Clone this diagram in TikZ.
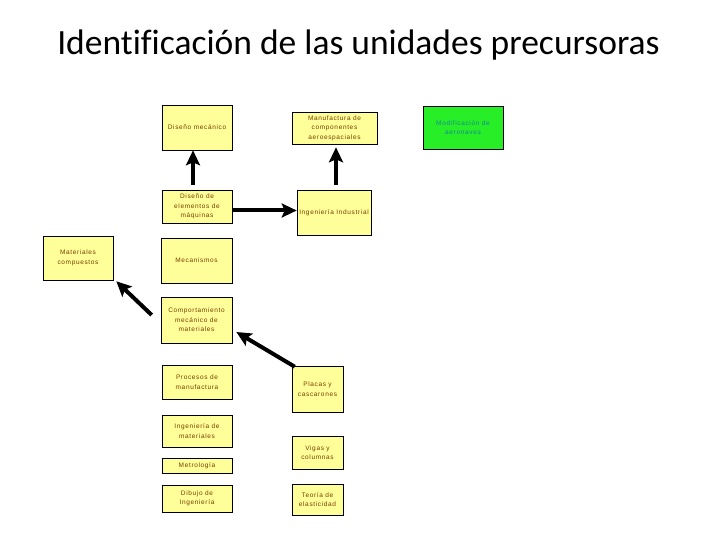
\documentclass[tikz,border=0pt]{standalone}
\usepackage{fontspec}
\setmainfont{Liberation Sans}
\newfontfamily\titlefont[Ligatures=NoCommon]{Carlito}
\newfontfamily\boxfont[LetterSpace=10]{Liberation Sans}
\usetikzlibrary{arrows.meta}
\definecolor{boxfill}{RGB}{255,255,153}
\definecolor{boxtext}{RGB}{120,60,0}
\definecolor{greenfill}{RGB}{40,238,40}
\definecolor{greentext}{RGB}{20,135,150}
\begin{document}
\begin{tikzpicture}[x=1pt,y=-1pt,
  unit/.style={draw=black, line width=0.6pt, fill=boxfill, text=boxtext,
    font=\boxfont\fontsize{6.5}{9.5}\selectfont, align=center, inner sep=0pt},
  greenunit/.style={unit, fill=greenfill, text=greentext},
  arr/.style={-{Stealth[length=15pt,width=14pt,inset=3pt]}, line width=4pt}]
\useasboundingbox (0,0) rectangle (720,540);
\node[font=\titlefont\fontsize{35.5}{40}\selectfont, anchor=base] (title) at (358.5,55) {Identificación de las unidades precursoras};

\node[unit, minimum width=70pt, minimum height=45pt] (dm) at (197,127.5) {Diseño mecánico};
\node[unit, minimum width=70pt, minimum height=33pt] (de) at (197,206.5) {Diseño de\\elementos de\\máquinas};
\node[unit, minimum width=85pt, minimum height=32pt] (mf) at (334.5,128) {Manufactura de\\componentes\\aeroespaciales};
\node[unit, minimum width=74pt, minimum height=45pt] (ii) at (334,212.5) {Ingeniería Industrial};
\node[greenunit, minimum width=80pt, minimum height=43pt] (mod) at (463,127.5) {Modificación de\\aeronaves};
\node[unit, minimum width=70pt, minimum height=44pt] (mc) at (78,258) {Materiales\\compuestos};
\node[unit, minimum width=71pt, minimum height=45pt] (mec) at (196.5,260.5) {Mecanismos};
\node[unit, minimum width=71pt, minimum height=46pt] (cm) at (196.5,320) {Comportamiento\\mecánico de\\materiales};
\node[unit, minimum width=70pt, minimum height=34pt] (pm) at (197,382) {Procesos de\\manufactura};
\node[unit, minimum width=70pt, minimum height=32pt] (im) at (197,431) {Ingeniería de\\materiales};
\node[unit, minimum width=70pt, minimum height=15pt] (met) at (197,465.5) {Metrología};
\node[unit, minimum width=70pt, minimum height=27pt] (di) at (197,498.5) {Dibujo de\\Ingeniería};
\node[unit, minimum width=51pt, minimum height=46pt] (pc) at (317.5,389) {Placas y\\cascarones};
\node[unit, minimum width=51pt, minimum height=33pt] (vc) at (317.5,452.5) {Vigas y\\columnas};
\node[unit, minimum width=51pt, minimum height=31pt] (te) at (317.5,499.5) {Teoría de\\elasticidad};

\draw[arr, shorten <=5pt] ([xshift=-4pt]de.north) -- ([xshift=-4pt]dm.south);
\draw[arr, shorten <=5pt, shorten >=3pt] ([xshift=2pt]ii.north) -- ([xshift=1.5pt]mf.south);
\draw[arr] ([yshift=-4pt]de.east) -- ([yshift=2pt]ii.west);
\draw[arr] ([xshift=-9pt,yshift=5pt]cm.west) -- ([xshift=3pt,yshift=-1pt]mc.south east);
\draw[arr] ([xshift=3pt,yshift=-1pt]pc.north west) -- ([xshift=4pt,yshift=-12pt]cm.east);
\end{tikzpicture}
\end{document}
